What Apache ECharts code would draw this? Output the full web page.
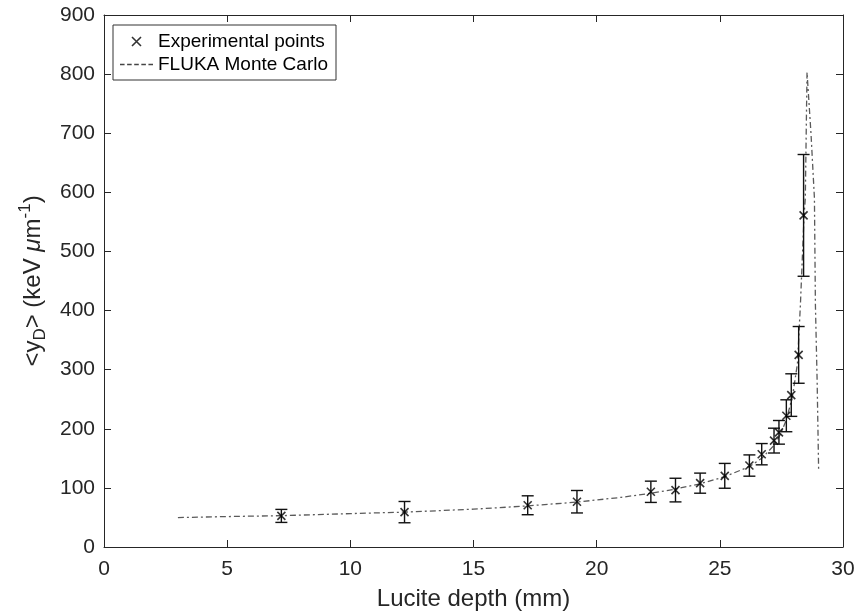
<!DOCTYPE html>
<html>
<head>
<meta charset="utf-8">
<script src="https://cdn.jsdelivr.net/npm/echarts@6/dist/echarts.min.js"></script>
<style>
  html, body { margin: 0; padding: 0; background: #fff; }
  #chart { width: 858px; height: 616px; }
</style>
</head>
<body>
<div id="chart"></div>
<script>
// Measured mean dose-averaged lineal energy along the Lucite depth
const depthMm = [7.2, 12.2, 17.2, 19.2, 22.2, 23.2, 24.2, 25.2, 26.2, 26.7, 27.2, 27.4, 27.7, 27.9, 28.2, 28.4];
const yDMeasured = [52.6, 59, 70.6, 76.6, 93.4, 96.3, 108, 120.4, 137.8, 157, 180, 194, 222, 257, 325, 561];
const yDError = [11, 18, 16, 19, 18, 20, 17, 21, 18, 18, 21, 20, 27, 36, 48, 103];

// FLUKA Monte Carlo curve (depth, <yD>)
const flukaDepth = [3.0, 5.0, 7.2, 10.0, 12.2, 15.0, 17.2, 19.2, 21.0, 22.2, 23.2, 24.2, 25.2, 26.2, 26.7, 27.2, 27.45, 27.7, 27.95, 28.15, 28.27, 28.42, 28.47, 28.54, 28.7, 28.84, 28.88, 28.95, 29.01];
const flukaYD = [49.8, 51.5, 53, 56.5, 59, 64, 69.5, 76, 84, 91, 98, 107, 119, 136, 150, 172, 190, 215, 255, 310, 409, 561, 590, 803, 700, 590, 410, 281, 132];

// Axis ticks
const xTicks = [0, 5, 10, 15, 20, 25, 30];
const yTicks = [0, 100, 200, 300, 400, 500, 600, 700, 800, 900];

const FONT = '"Liberation Sans", Arial, Helvetica, sans-serif';
const INK = '#262626';

const measuredPoints = depthMm.map((d, i) => [d, yDMeasured[i]]);
const errorBars = depthMm.map((d, i) => [d, yDMeasured[i] - yDError[i], yDMeasured[i] + yDError[i]]);
const flukaPoints = flukaDepth.map((d, i) => [d, flukaYD[i]]);

const crossPath = 'path://M0,0L10,10M10,0L0,10';
// short dashes used as the legend key of the simulated curve
const dashKeyPath = 'path://M0,0h4.5v1.4h-4.5z M7,0h4.5v1.4h-4.5z M14,0h4.5v1.4h-4.5z M21,0h4.5v1.4h-4.5z M28,0h4.5v1.4h-4.5z';

function axisCommon(extra) {
  return Object.assign({
    axisLine: { show: true, onZero: false, lineStyle: { color: INK, width: 1 } },
    axisTick: { show: true, inside: true, length: 7, lineStyle: { color: INK, width: 1 } },
    splitLine: { show: false },
    axisLabel: { show: true, color: INK, fontFamily: FONT, fontSize: 21 }
  }, extra);
}

const chart = echarts.init(document.getElementById('chart'), null, { renderer: 'canvas' });

chart.setOption({
  animation: false,
  backgroundColor: '#ffffff',
  grid: { left: 104, right: 15, top: 15, bottom: 66, containLabel: false },
  xAxis: [
    axisCommon({
      type: 'value', min: xTicks[0], max: xTicks[xTicks.length - 1], interval: 5, position: 'bottom',
      name: 'Lucite depth (mm)', nameLocation: 'middle', nameGap: 40,
      nameTextStyle: { color: INK, fontFamily: FONT, fontSize: 24 },
      axisLabel: { show: true, color: INK, fontFamily: FONT, fontSize: 21, margin: 12 }
    }),
    axisCommon({
      type: 'value', min: xTicks[0], max: xTicks[xTicks.length - 1], interval: 5, position: 'top',
      axisLabel: { show: false }
    })
  ],
  yAxis: [
    axisCommon({
      type: 'value', min: yTicks[0], max: yTicks[yTicks.length - 1], interval: 100, position: 'left',
      name: '<y{sub|D}> (keV {mu|μ}m{sup|-1})', nameLocation: 'middle', nameGap: 50, nameRotate: 90,
      nameTextStyle: {
        color: INK, fontFamily: FONT, fontSize: 24, lineHeight: 32,
        rich: {
          sub: { color: INK, fontFamily: FONT, fontSize: 17, lineHeight: 16, verticalAlign: 'bottom' },
          mu: { color: INK, fontFamily: FONT, fontSize: 24, lineHeight: 32, fontStyle: 'italic' },
          sup: { color: INK, fontFamily: FONT, fontSize: 17, lineHeight: 16, verticalAlign: 'top' }
        }
      },
      axisLabel: { show: true, color: INK, fontFamily: FONT, fontSize: 21, margin: 9 }
    }),
    axisCommon({
      type: 'value', min: yTicks[0], max: yTicks[yTicks.length - 1], interval: 100, position: 'right',
      axisLabel: { show: false }
    })
  ],
  legend: {
    show: true,
    left: 113, top: 25,
    orient: 'vertical',
    backgroundColor: '#ffffff',
    borderColor: '#333333', borderWidth: 1, borderRadius: 0,
    padding: [7, 8, 6, 7],
    itemGap: 4,
    itemWidth: 33, itemHeight: 9,
    textStyle: { color: '#000', fontFamily: FONT, fontSize: 19 },
    data: [
      { name: 'Experimental points', icon: crossPath, itemStyle: { color: 'none', borderColor: '#000', borderWidth: 1.6 } },
      { name: 'FLUKA Monte Carlo', icon: dashKeyPath, itemStyle: { color: '#444444', borderWidth: 0 } }
    ]
  },
  series: [
    {
      name: 'FLUKA Monte Carlo',
      type: 'line',
      data: flukaPoints,
      showSymbol: false,
      symbol: 'none',
      smooth: false,
      z: 1,
      lineStyle: { color: '#5a5a5a', width: 1.3, type: [6, 3, 2, 3] },
      itemStyle: { color: '#5a5a5a' }
    },
    {
      name: 'Experimental points error',
      type: 'custom',
      data: errorBars,
      z: 2,
      renderItem: function (params, api) {
        const x = api.value(0);
        const lo = api.coord([x, api.value(1)]);
        const hi = api.coord([x, api.value(2)]);
        const hw = 6;
        const style = { stroke: '#111', lineWidth: 1.4 };
        return {
          type: 'group',
          children: [
            { type: 'line', shape: { x1: hi[0], y1: hi[1], x2: lo[0], y2: lo[1] }, style: style },
            { type: 'line', shape: { x1: hi[0] - hw, y1: hi[1], x2: hi[0] + hw, y2: hi[1] }, style: style },
            { type: 'line', shape: { x1: lo[0] - hw, y1: lo[1], x2: lo[0] + hw, y2: lo[1] }, style: style }
          ]
        };
      },
      encode: { x: 0, y: [1, 2] },
      silent: true
    },
    {
      name: 'Experimental points',
      type: 'scatter',
      data: measuredPoints,
      symbol: crossPath,
      symbolSize: 8,
      z: 3,
      itemStyle: { color: 'none', borderColor: '#000', borderWidth: 1.6 }
    }
  ]
});
</script>
</body>
</html>
